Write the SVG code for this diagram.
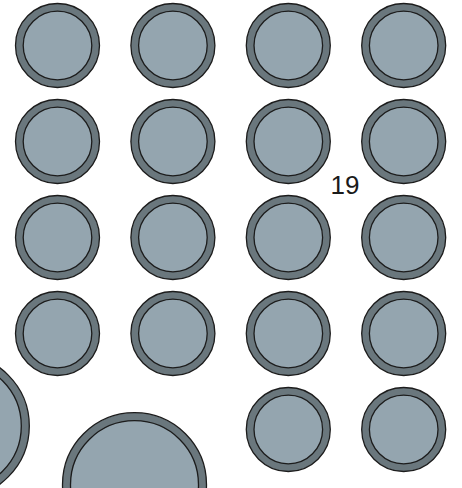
<svg xmlns="http://www.w3.org/2000/svg" width="462" height="488" viewBox="0 0 462 488">
<defs>
<style>
.o{fill:#6a777d;stroke:#1c1c1c;stroke-width:1.3}
.i{fill:#94a5af;stroke:#1c1c1c;stroke-width:1.3}
.t{font-family:"Liberation Sans",Arial,sans-serif;font-size:26px;fill:#1a1a1a}
</style>
<g id="c"><circle class="o" r="42"/><circle class="i" r="34.3"/></g>
<g id="b"><circle class="o" r="72"/><circle class="i" r="64"/></g>
</defs>
<g id="n1"><use href="#c" x="57.5" y="45.5"/></g>
<g id="n2"><use href="#c" x="172.9" y="45.5"/></g>
<g id="n3"><use href="#c" x="288.3" y="45.5"/></g>
<g id="n4"><use href="#c" x="403.7" y="45.5"/></g>
<g id="n5"><use href="#c" x="57.5" y="141.5"/></g>
<g id="n6"><use href="#c" x="172.9" y="141.5"/></g>
<g id="n7"><use href="#c" x="288.3" y="141.5"/></g>
<g id="n8"><use href="#c" x="403.7" y="141.5"/></g>
<g id="n9"><use href="#c" x="57.5" y="237.5"/></g>
<g id="n10"><use href="#c" x="172.9" y="237.5"/></g>
<g id="n11"><use href="#c" x="288.3" y="237.5"/></g>
<g id="n12"><use href="#c" x="403.7" y="237.5"/></g>
<g id="n13"><use href="#c" x="57.5" y="333.5"/></g>
<g id="n14"><use href="#c" x="172.9" y="333.5"/></g>
<g id="n15"><use href="#c" x="288.3" y="333.5"/></g>
<g id="n16"><use href="#c" x="403.7" y="333.5"/></g>
<g id="n17"><use href="#c" x="288.3" y="429.5"/></g>
<g id="n18"><use href="#c" x="403.7" y="429.5"/></g>
<g id="n19"><use href="#b" x="-42.7" y="426"/></g>
<g id="n20"><use href="#b" x="134.5" y="484.7"/></g>
<g id="label"><text class="t" x="330.5" y="194.3">19</text></g>
<g id="connectors"/>
</svg>
